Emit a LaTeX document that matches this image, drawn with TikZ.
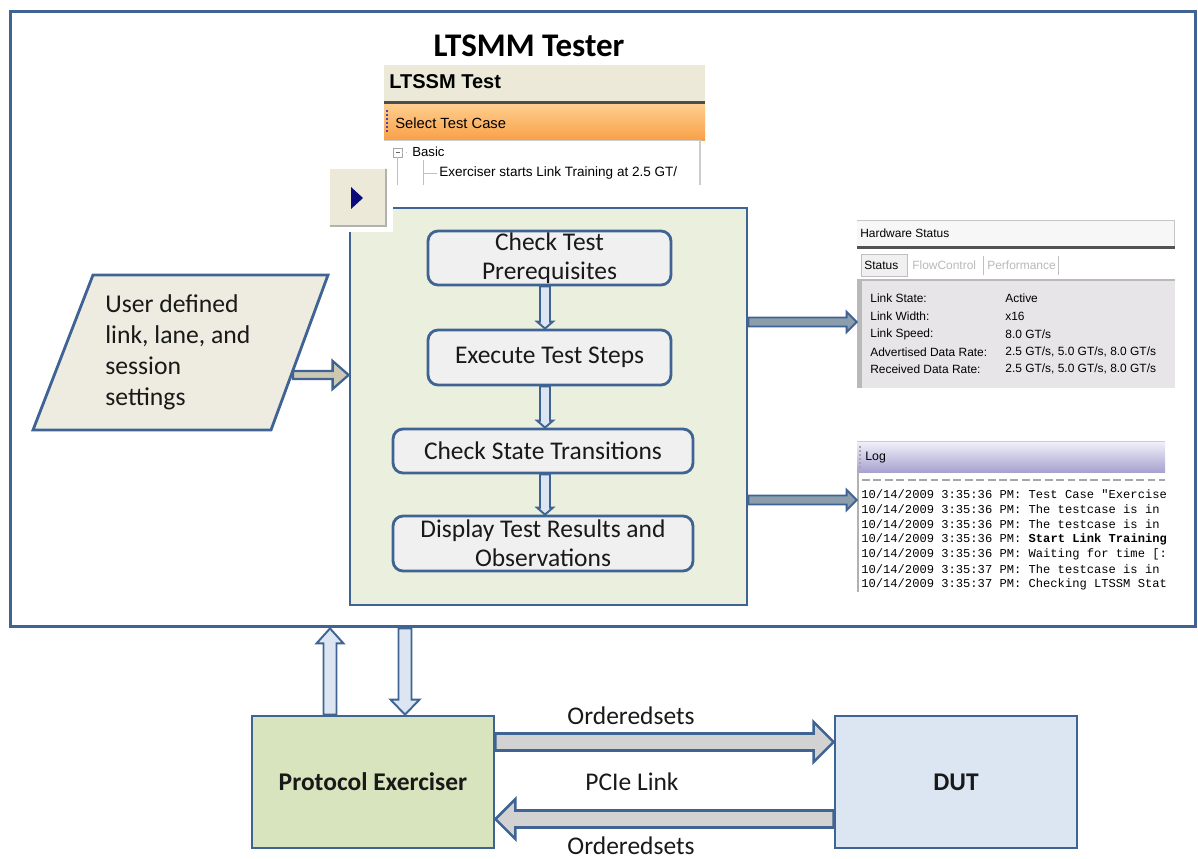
\documentclass[tikz,border=0pt]{standalone}
\usepackage{fontspec}
\setmainfont{Carlito}
\newfontfamily\uifont{Liberation Sans}
\newfontfamily\logfont{Liberation Mono}
\usetikzlibrary{calc}
\definecolor{bord}{RGB}{63,100,148}
\definecolor{greenbg}{RGB}{235,240,222}
\definecolor{boxbg}{RGB}{240,240,240}
\definecolor{parbg}{RGB}{238,236,225}
\definecolor{pebg}{RGB}{215,228,189}
\definecolor{dutbg}{RGB}{220,230,242}
\definecolor{harrbg}{RGB}{210,210,210}
\definecolor{varrbg}{RGB}{220,230,242}
\definecolor{rarrbg}{RGB}{140,158,172}
\definecolor{parrbg}{RGB}{205,200,178}
\definecolor{uibeige}{RGB}{236,233,216}
\definecolor{orangeT}{RGB}{254,206,142}
\definecolor{orangeB}{RGB}{249,160,72}
\definecolor{hwbg}{RGB}{232,229,233}
\definecolor{logT}{RGB}{242,242,250}
\definecolor{logB}{RGB}{168,162,208}
\definecolor{navyblue}{RGB}{10,10,120}
\definecolor{txt}{RGB}{25,25,25}
\newcommand\blockarrow[6]{%
  \coordinate (baS) at (#2);
  \coordinate (baE) at (#3);
  \coordinate (baH) at ($(baE)!#6!(baS)$);
  \draw[#1] ($(baS)!#4!90:(baE)$) -- ($(baH)!#4!90:(baE)$) -- ($(baH)!#5!90:(baE)$) -- (baE)
    -- ($(baH)!#5!-90:(baE)$) -- ($(baH)!#4!-90:(baE)$) -- ($(baS)!#4!-90:(baE)$) -- cycle;
}
\begin{document}
\begin{tikzpicture}[x=0.02cm,y=-0.02cm,line join=miter,
  frame/.style={draw=bord,line width=1.7pt,inner sep=0pt},
  box/.style={draw=bord,line width=1.6pt,rounded corners=0.2cm,fill=boxbg,align=center,
    text=txt,font=\fontsize{14.5}{16.5}\selectfont,inner sep=0pt},
  bigbox/.style={draw=bord,line width=1.6pt,inner sep=0pt,text=txt,
    font=\bfseries\fontsize{14.5}{16.5}\selectfont,minimum width=4.84cm,minimum height=2.64cm},
  lbl/.style={text=txt,font=\fontsize{14.5}{16.5}\selectfont,inner sep=0pt},
  vArr/.style={draw=bord,line width=1.1pt,fill=varrbg},
  hArr/.style={draw=bord,line width=1.5pt,fill=harrbg},
  rArr/.style={draw=bord,line width=1.1pt,fill=rarrbg},
  pArr/.style={draw=bord,line width=1.3pt,fill=parrbg},
  ui/.style={inner sep=0pt,anchor=west,font=\uifont\fontsize{6.8}{7.5}\selectfont},
  lg/.style={inner sep=0pt,anchor=west,font=\logfont\fontsize{6.9}{8}\selectfont}]
\useasboundingbox (0,0) rectangle (1198,859);
\fill[white] (0,0) rectangle (1198,859);

% outer frame
\node[frame,minimum width=23.72cm,minimum height=12.32cm] (outer) at (603,319) {};
\node[inner sep=0pt,font=\bfseries\fontsize{18.8}{20}\selectfont] (title) at (529,46) {LTSMM Tester};

% LTSSM Test screenshot
\fill[uibeige] (384,65) rectangle (705,101);
\node[inner sep=0pt,anchor=west,font=\uifont\bfseries\fontsize{11.4}{12}\selectfont] (ltssm) at (389,82) {LTSSM Test};
\fill[black!70] (384,101) rectangle (705,104);
\shade[top color=orangeT,bottom color=orangeB] (384,104) rectangle (705,140);
\foreach \yy in {110,114,...,132} \fill[blue!45!gray] (386,\yy) rectangle (388,\yy+1.6);
\node[ui,font=\uifont\fontsize{8.4}{9}\selectfont] (stc) at (395,123) {Select Test Case};
\draw[gray!40] (384,140.5) -- (700,140.5);
\draw[gray!40,line width=1pt] (700,140) -- (700,185);
\draw[gray!70,fill=white] (393,148) rectangle (402,157);
\draw[gray!80!black] (395.5,152.5) -- (399.5,152.5);
\draw[gray!50,dotted] (402,152.5) -- (410,152.5);
\draw[gray!50] (397.5,157) -- (397.5,185);
\draw[gray!50] (423,160) -- (423,185);
\draw[gray!50] (423,173) -- (437,173);
\node[ui,font=\uifont\fontsize{7.5}{8}\selectfont] (basic) at (412,152) {Basic};
\node[ui,font=\uifont\fontsize{7.7}{8}\selectfont] (exs) at (439,173) {Exerciser starts Link Training at 2.5 GT/};

% tester box and steps
\node[draw=bord,line width=1.6pt,fill=greenbg,minimum width=7.94cm,minimum height=7.94cm,inner sep=0pt] (tester) at (548.5,406.5) {};
\fill[white] (345,200) rectangle (392.5,232);
% button
\fill[uibeige] (329,168) rectangle (386,226);
\draw[gray!60,line width=1.2pt] (386,169) -- (386,226) -- (330,226);
\draw[white,line width=1pt] (329.5,225) -- (329.5,168.5) -- (385,168.5);
\fill[navyblue] (351,187) -- (351,209) -- (363,198) -- cycle;

\node[box,minimum width=4.86cm,minimum height=1.08cm] (b1) at (549.5,258) {Check Test\\Prerequisites};
\node[box,minimum width=4.86cm,minimum height=1.1cm] (b2) at (549.5,357.5) {Execute Test Steps};
\node[box,minimum width=6cm,minimum height=0.88cm] (b3) at (543,451) {Check State Transitions};
\node[box,minimum width=6cm,minimum height=1.1cm] (b4) at (543,543.5) {Display Test Results and\\Observations};
\coordinate (ax) at (545,0);
\blockarrow{vArr}{b1.south -| ax}{b2.north -| ax}{0.1cm}{0.16cm}{0.14cm}
\blockarrow{vArr}{b2.south -| ax}{b3.north -| ax}{0.1cm}{0.16cm}{0.14cm}
\blockarrow{vArr}{b3.south -| ax}{b4.north -| ax}{0.1cm}{0.16cm}{0.14cm}

% user settings parallelogram
\draw[draw=bord,line width=1.6pt,fill=parbg] (33,430) -- (93,275) -- (328,275) -- (271,430) -- cycle;
\node[inner sep=0pt,anchor=west,align=left,text=txt,font=\fontsize{14.6}{17.6}\selectfont] (usr) at (105,352)
  {User defined\\link, lane, and\\session\\settings};
\coordinate (parR) at (293,375);
\blockarrow{pArr}{parR}{tester.west |- parR}{0.08cm}{0.28cm}{0.32cm}

% hardware status panel
\node[inner sep=0pt,minimum width=6.36cm,minimum height=3.36cm] (hw) at (1016,304) {};
\fill[gray!6] (857,220) rectangle (1175,246);
\draw[gray!45] (857,220.5) -- (1175,220.5) (1174.5,220) -- (1174.5,278);
\node[ui] (hwt) at (860,233) {Hardware Status};
\fill[gray!65!black] (857,246) rectangle (1175,249);
\fill[white] (857,249) rectangle (1175,279);
\draw[gray!50,fill=gray!12] (861,254) rectangle (907,276);
\node[ui] (t1) at (864,265) {Status};
\node[ui,text=gray!55] (t2) at (912,265) {FlowControl};
\draw[gray!50] (983,256) -- (983,275);
\node[ui,text=gray!55] (t3) at (987,265) {Performance};
\draw[gray!50] (1058,256) -- (1058,275);
\fill[hwbg] (857,279) rectangle (1175,388);
\fill[gray!55] (857,279) rectangle (862,388);
\draw[gray!55,line width=1pt] (857,280) -- (1175,280);
\node[ui] (l1) at (870,298) {Link State:};
\node[ui] (l2) at (870,316) {Link Width:};
\node[ui] (l3) at (870,334) {Link Speed:};
\node[ui] (l4) at (870,352) {Advertised Data Rate:};
\node[ui] (l5) at (870,369) {Received Data Rate:};
\node[ui] (v1) at (1005,298) {Active};
\node[ui] (v2) at (1005,316) {x16};
\node[ui] (v3) at (1005,334) {8.0 GT/s};
\node[ui] (v4) at (1005,352) {2.5 GT/s, 5.0 GT/s, 8.0 GT/s};
\node[ui] (v5) at (1005,369) {2.5 GT/s, 5.0 GT/s, 8.0 GT/s};

% log panel
\node[inner sep=0pt,minimum width=6.16cm,minimum height=3.04cm] (log) at (1011,516) {};
\shade[top color=logT,bottom color=logB] (857,441) rectangle (1165,472);
\draw[gray!40] (857,441) -- (1165,441);
\foreach \yy in {446,450,...,466} \fill[gray!70] (859,\yy) rectangle (860.5,\yy+1.5);
\node[ui,font=\uifont\fontsize{7}{8}\selectfont] (logt) at (865,458) {Log};
\draw[gray!60,line width=1.5pt] (858,472) -- (858,592);
\draw[gray!70,line width=0.8pt,dash pattern=on 4.5pt off 2pt] (862,480) -- (1165,480);
\begin{scope}
\clip (860,472) rectangle (1165,595);
\node[lg] (g1) at (861,494) {10/14/2009 3:35:36 PM: Test Case "Exercise};
\node[lg] (g2) at (861,509) {10/14/2009 3:35:36 PM: The testcase is in};
\node[lg] (g3) at (861,524) {10/14/2009 3:35:36 PM: The testcase is in};
\node[lg] (g4) at (861,539) {10/14/2009 3:35:36 PM: \textbf{Start Link Training}};
\node[lg] (g5) at (861,554) {10/14/2009 3:35:36 PM: Waiting for time [:};
\node[lg] (g6) at (861,569) {10/14/2009 3:35:37 PM: The testcase is in};
\node[lg] (g7) at (861,584) {10/14/2009 3:35:37 PM: Checking LTSSM State};
\end{scope}

% right arrows
\coordinate (rA) at (0,322);
\coordinate (rB) at (0,500);
\blockarrow{rArr}{tester.east |- rA}{hw.west |- rA}{0.09cm}{0.2cm}{0.2cm}
\blockarrow{rArr}{tester.east |- rB}{log.west |- rB}{0.09cm}{0.2cm}{0.2cm}

% bottom blocks
\node[bigbox,fill=pebg] (pe) at (373,782) {Protocol Exerciser};
\node[bigbox,fill=dutbg] (dut) at (956,782) {DUT};
\coordinate (upx) at (330,0);
\coordinate (dnx) at (405,0);
\blockarrow{vArr}{pe.north -| upx}{outer.south -| upx}{0.13cm}{0.27cm}{0.3cm}
\blockarrow{vArr}{outer.south -| dnx}{pe.north -| dnx}{0.13cm}{0.29cm}{0.3cm}
\coordinate (hA) at (0,742);
\coordinate (hB) at (0,819);
\blockarrow{hArr}{pe.east |- hA}{dut.west |- hA}{0.17cm}{0.4cm}{0.4cm}
\blockarrow{hArr}{dut.west |- hB}{pe.east |- hB}{0.17cm}{0.4cm}{0.4cm}
\node[lbl] (os1) at (631,716) {Orderedsets};
\node[lbl] (pcie) at (632,782) {PCIe Link};
\node[lbl] (os2) at (631,846) {Orderedsets};
\end{tikzpicture}
\end{document}
